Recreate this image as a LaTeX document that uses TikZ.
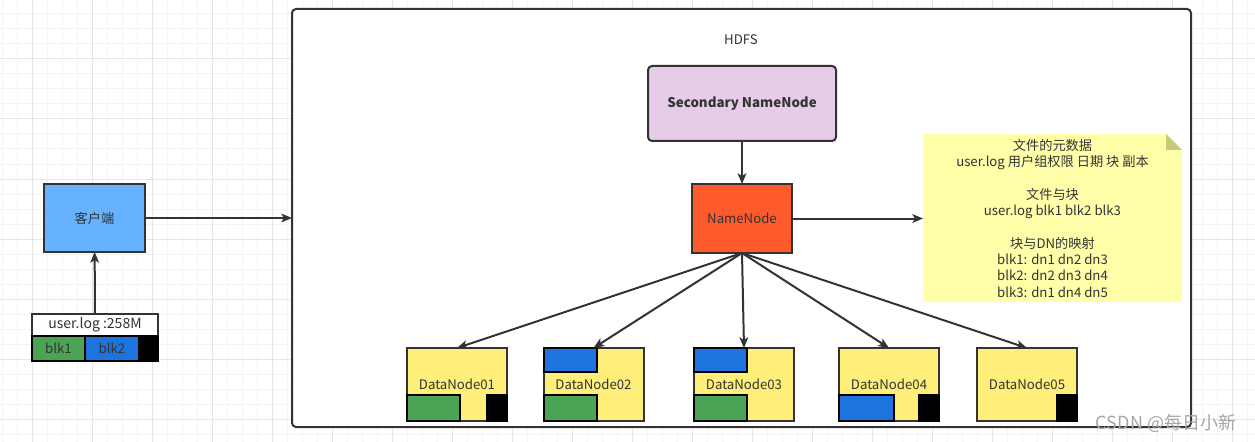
\documentclass[tikz,border=0pt]{standalone}
\usepackage{fontspec}
\setmainfont{Noto Sans CJK SC}
\usetikzlibrary{arrows.meta}
\definecolor{linegray}{HTML}{333333}
\definecolor{gridminor}{HTML}{F4F4F4}
\definecolor{gridmajor}{HTML}{E6E6E6}
\definecolor{snnpurple}{HTML}{E6CCE8}
\definecolor{nnorange}{HTML}{FF5A2C}
\definecolor{clientblue}{HTML}{66B2FF}
\definecolor{dnyellow}{HTML}{FFEF7A}
\definecolor{blkgreen}{HTML}{4BA355}
\definecolor{blkblue}{HTML}{1E74DE}
\definecolor{noteyellow}{HTML}{FFFFAA}
\definecolor{notefold}{HTML}{C9C97C}
\begin{document}
\begin{tikzpicture}[x=0.75pt,y=-0.75pt,
    font=\fontsize{9.9}{12.25}\selectfont,
    box/.style={draw=linegray, line width=1.5pt, inner sep=0pt, outer sep=0pt, text=linegray},
    dnbox/.style={box, fill=dnyellow, minimum width=75pt, minimum height=54.75pt},
    blk/.style={draw=black, line width=1.5pt},
    link/.style={draw=linegray, line width=1.5pt, -{Stealth[length=8pt,width=6.5pt,inset=2pt]}}]
  \useasboundingbox (0,0) rectangle (1255,442);
  \fill[white] (0,0) rectangle (1255,442);
  % grid
  \foreach \gx in {2,17,...,1255} {
    \draw[gridminor, line width=0.75pt] (\gx,0) -- (\gx,442);
  }
  \foreach \gy in {14,29,...,442} {
    \draw[gridminor, line width=0.75pt] (0,\gy) -- (1255,\gy);
  }
  \foreach \gx in {32,92,...,1255} {
    \draw[gridmajor, line width=0.75pt] (\gx,0) -- (\gx,442);
  }
  \foreach \gy in {59,119,...,442} {
    \draw[gridmajor, line width=0.75pt] (0,\gy) -- (1255,\gy);
  }

  % HDFS
  \node[box, fill=white, rounded corners=3pt, minimum width=674.25pt, minimum height=313.5pt] (hdfs) at (741.5,218) {};
  \node[text=linegray] (hdfslabel) at (741,40) {HDFS};
  \node[box, fill=snnpurple, rounded corners=3pt, minimum width=141pt, minimum height=56.25pt, font=\fontsize{10}{12}\selectfont\bfseries] (snn) at (742,103.5) {Secondary NameNode};
  \node[box, fill=nnorange, minimum width=75pt, minimum height=51.75pt] (nn) at (742,218.5) {NameNode};

  % metadata note
  \node[fill=noteyellow, minimum width=194.25pt, minimum height=126pt, inner sep=0pt, outer sep=0pt, align=center, text=linegray] (note) at (1052.5,218)
    {文件的元数据\\user.log 用户组权限 日期 块 副本\\[12.25pt]文件与块\\user.log blk1 blk2 blk3\\[12.25pt]块与DN的映射\\blk1: dn1 dn2 dn3\\blk2: dn2 dn3 dn4\\blk3: dn1 dn4 dn5};
  \fill[white] (note.north east) -- +(-16,0) -- +(0,16) -- cycle;
  \fill[notefold] (note.north east) ++(-16,0) -- ++(0,16) -- ++(16,0) -- cycle;

  % datanodes
  \node[dnbox] (dn1) at (457,384.5) {DataNode01};
  \node[dnbox] (dn2) at (593.5,384.5) {DataNode02};
  \node[dnbox] (dn3) at (744,384.5) {DataNode03};
  \node[dnbox] (dn4) at (889,384.5) {DataNode04};
  \node[dnbox] (dn5) at (1027,384.5) {DataNode05};
  \filldraw[blk, fill=blkgreen] (dn1.south west) rectangle +(53,-26);
  \filldraw[blk, fill=black] (dn1.south east) rectangle +(-20,-26);
  \filldraw[blk, fill=blkblue] (dn2.north west) rectangle +(53,24);
  \filldraw[blk, fill=blkgreen] (dn2.south west) rectangle +(53,-26);
  \filldraw[blk, fill=blkblue] (dn3.north west) rectangle +(53,24);
  \filldraw[blk, fill=blkgreen] (dn3.south west) rectangle +(53,-26);
  \filldraw[blk, fill=blkblue] (dn4.south west) rectangle +(55,-26);
  \filldraw[blk, fill=black] (dn4.south east) rectangle +(-20,-26);
  \filldraw[blk, fill=black] (dn5.south east) rectangle +(-20,-26);

  % client side
  \node[box, fill=clientblue, minimum width=75.75pt, minimum height=51pt] (client) at (94.5,218) {客户端};
  \node[box, fill=white, minimum width=94.5pt, minimum height=16.5pt, font=\fontsize{10.5}{12}\selectfont] (ulog) at (95,325) {user.log :258M};
  \node[box, draw=black, fill=blkgreen, minimum width=39.75pt, minimum height=18.75pt] (ublk1) at (58.5,348.5) {blk1};
  \node[box, draw=black, fill=blkblue, minimum width=40.5pt, minimum height=18.75pt] (ublk2) at (112,348.5) {blk2};
  \node[box, draw=black, fill=black, minimum width=14.25pt, minimum height=18.75pt] (ublk3) at (148.5,348.5) {};

  % connectors
  \draw[link] (ulog) -- (client);
  \draw[link] (client) -- (client -| hdfs.west);
  \draw[link] (snn) -- (nn);
  \draw[link] (nn) -- (nn -| note.west);
  \foreach \n in {dn1,dn2,dn3,dn4,dn5} {
    \draw[link] (nn.south) -- (\n.north);
  }

  \node[text=black!35, font=\fontsize{13.5}{14}\selectfont] (mark) at (1166,423) {CSDN @每日小新};
\end{tikzpicture}
\end{document}
